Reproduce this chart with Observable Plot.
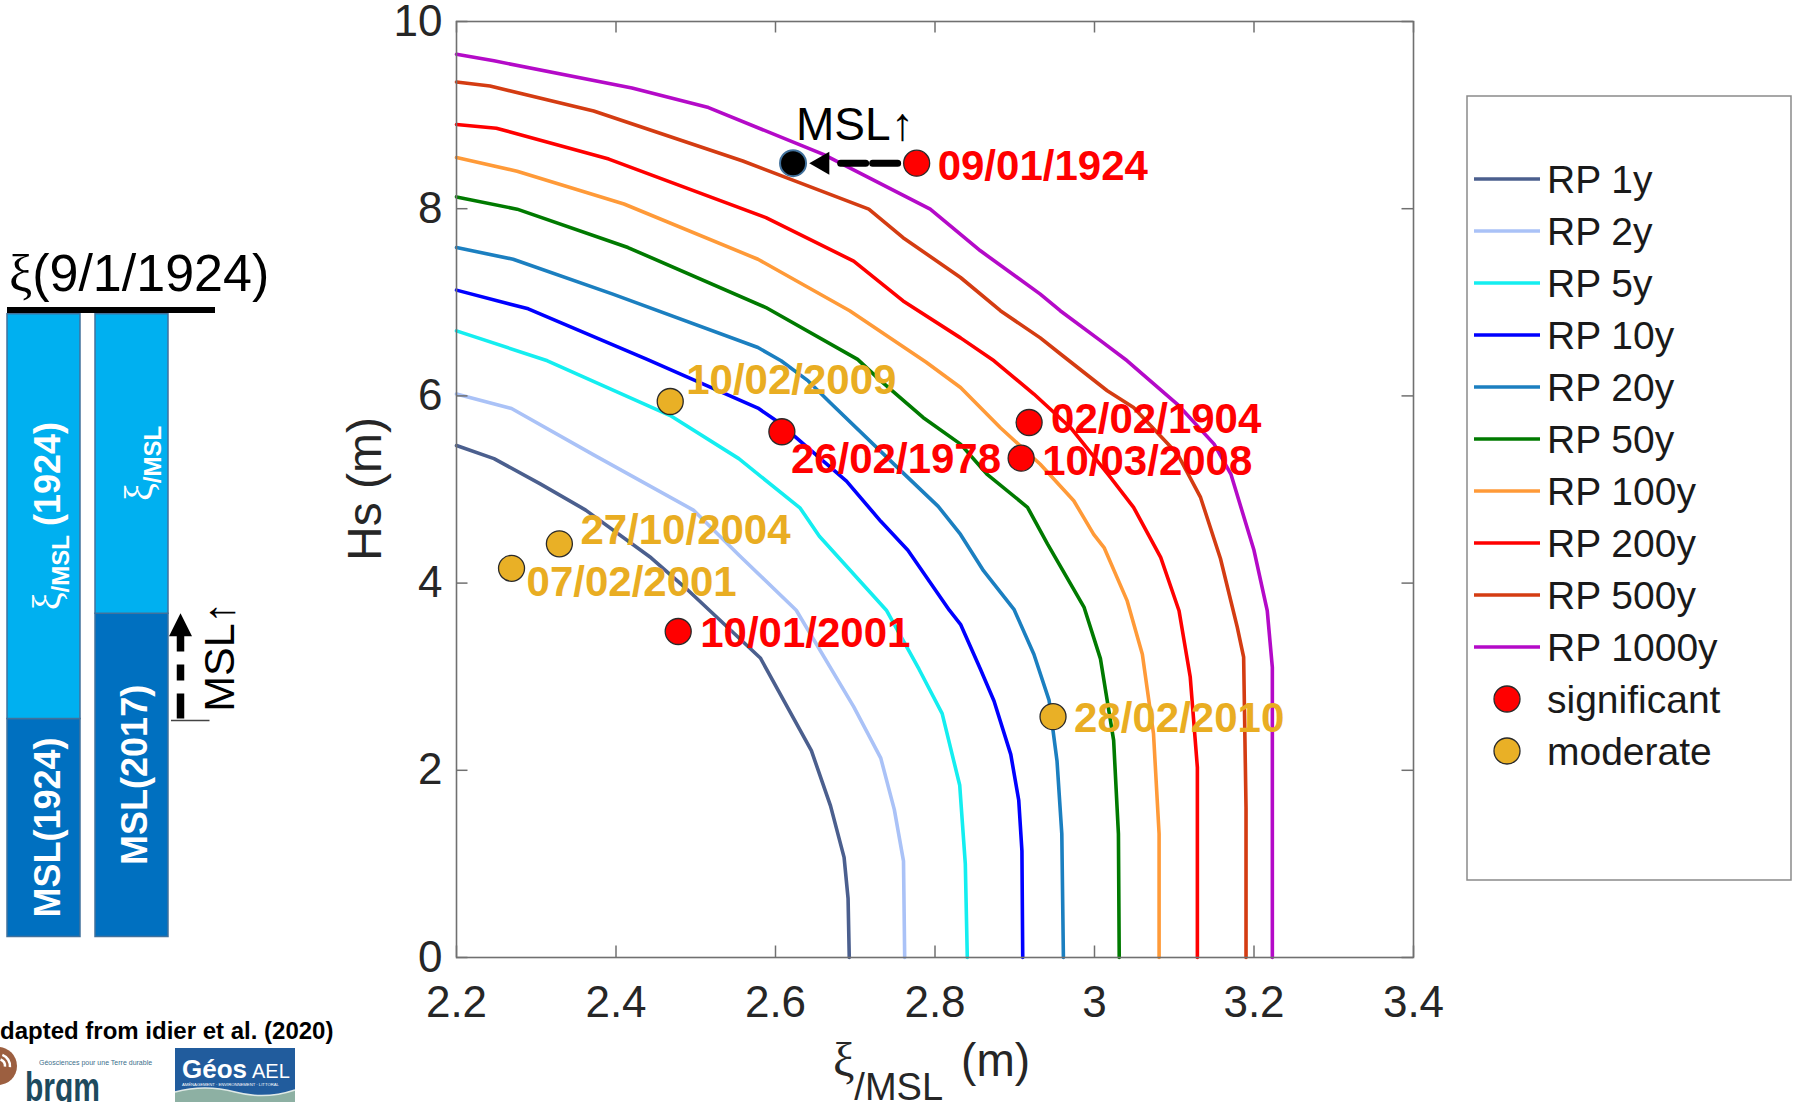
<!DOCTYPE html>
<html>
<head>
<meta charset="utf-8">
<script src="https://cdn.jsdelivr.net/npm/d3@7"></script>
<script src="https://cdn.jsdelivr.net/npm/@observablehq/plot@0.6"></script>
<style>
  html, body { margin: 0; padding: 0; background: #fff; }
  #page { position: relative; width: 1797px; height: 1102px; overflow: hidden; background: #fff;
          font-family: "Liberation Sans", Arial, Helvetica, sans-serif; }
  #page > svg, #page > div { position: absolute; }
</style>
</head>
<body>
<div id="page"></div>
<script>
// ---------------- DATA ----------------
const rpNames  = ["RP 1y", "RP 2y", "RP 5y", "RP 10y", "RP 20y", "RP 50y", "RP 100y", "RP 200y", "RP 500y", "RP 1000y"];
const rpColors = ["#4b5f8e", "#aac2f7", "#14eef0", "#0000ff", "#1b7fc0", "#007a00", "#ff9a38", "#ff0000", "#d43c12", "#b40ac8"];

// contours: [xi/MSL (m), Hs (m)]
const rp1y    = [[2.2,5.47],[2.247,5.33],[2.305,5.06],[2.362,4.78],[2.444,4.27],[2.487,3.95],[2.581,3.2],[2.645,2.21],[2.669,1.62],[2.686,1.07],[2.691,0.63],[2.6925,0]];
const rp2y    = [[2.2,6.02],[2.269,5.865],[2.372,5.37],[2.497,4.78],[2.554,4.3],[2.626,3.71],[2.698,2.68],[2.732,2.13],[2.749,1.58],[2.7605,1.03],[2.762,0]];
const rp5y    = [[2.2,6.695],[2.314,6.375],[2.468,5.79],[2.554,5.33],[2.631,4.8],[2.655,4.5],[2.739,3.71],[2.78,3.08],[2.809,2.605],[2.831,1.84],[2.838,1.0],[2.8405,0]];
const rp10y   = [[2.2,7.13],[2.29,6.93],[2.439,6.39],[2.578,5.87],[2.602,5.73],[2.689,5.09],[2.732,4.66],[2.766,4.35],[2.818,3.71],[2.832,3.56],[2.857,3.08],[2.874,2.74],[2.895,2.17],[2.905,1.68],[2.909,1.14],[2.91,0]];
const rp20y   = [[2.2,7.585],[2.271,7.46],[2.396,7.087],[2.578,6.517],[2.607,6.375],[2.641,6.16],[2.669,5.925],[2.756,5.21],[2.804,4.82],[2.832,4.52],[2.861,4.13],[2.899,3.72],[2.924,3.24],[2.943,2.75],[2.953,2.1],[2.959,1.32],[2.961,0]];
const rp50y   = [[2.2,8.126],[2.276,7.995],[2.415,7.585],[2.588,6.944],[2.703,6.39],[2.732,6.16],[2.785,5.77],[2.832,5.485],[2.865,5.165],[2.916,4.81],[2.941,4.42],[2.987,3.74],[3.0075,3.19],[3.024,2.32],[3.03,1.32],[3.031,0]];
const rp100y  = [[2.2,8.546],[2.276,8.4],[2.41,8.05],[2.578,7.46],[2.693,6.91],[2.789,6.36],[2.832,6.09],[2.882,5.66],[2.932,5.27],[2.974,4.88],[2.999,4.52],[3.012,4.38],[3.041,3.81],[3.06,3.24],[3.074,2.39],[3.081,1.32],[3.081,0]];
const rp200y  = [[2.2,8.9],[2.25,8.86],[2.391,8.53],[2.588,7.905],[2.698,7.44],[2.76,7.015],[2.832,6.62],[2.874,6.375],[2.924,6.02],[2.97,5.66],[3.02,5.13],[3.049,4.81],[3.083,4.275],[3.106,3.705],[3.12,3.0],[3.129,2.03],[3.129,0]];
const rp500y  = [[2.2,9.354],[2.242,9.31],[2.372,9.044],[2.559,8.51],[2.717,7.995],[2.76,7.69],[2.832,7.265],[2.882,6.91],[2.932,6.62],[2.957,6.45],[3.016,6.055],[3.049,5.875],[3.104,5.38],[3.133,4.915],[3.158,4.26],[3.179,3.53],[3.187,3.21],[3.19,1.6],[3.19,0]];
const rp1000y = [[2.2,9.65],[2.247,9.58],[2.42,9.29],[2.516,9.08],[2.66,8.58],[2.794,7.995],[2.857,7.55],[2.932,7.087],[2.957,6.91],[3.0075,6.59],[3.041,6.375],[3.104,5.91],[3.15,5.485],[3.171,5.165],[3.2,4.35],[3.2166,3.705],[3.223,3.1],[3.223,0]];
const rpCurves = [rp1y, rp2y, rp5y, rp10y, rp20y, rp50y, rp100y, rp200y, rp500y, rp1000y];

// storm events
const sigDates = ["09/01/1924", "02/02/1904", "10/03/2008", "26/02/1978", "10/01/2001"];
const sigX     = [2.777, 2.918, 2.908, 2.608, 2.478];
const sigY     = [8.486, 5.716, 5.335, 5.617, 3.483];
const modDates = ["10/02/2009", "27/10/2004", "07/02/2001", "28/02/2010"];
const modX     = [2.468, 2.329, 2.269, 2.948];
const modY     = [5.94, 4.42, 4.158, 2.573];
// 09/01/1924 event translated to present mean sea level
const shiftedX = [2.622];
const shiftedY = [8.486];
const mslNote  = "MSL\u2191";

const xTicks = [2.2, 2.4, 2.6, 2.8, 3, 3.2, 3.4];
const yTicks = [0, 2, 4, 6, 8, 10];
const legendExtra = ["significant", "moderate"];

// schematic sea-level diagram (relative units)
const barColumns = ["1924", "2017"];
const mslLevel   = [3.5, 5.19];
const eventLevel = 10;

// ---------------- LAYOUT / STYLE ----------------
const sans  = '"Liberation Sans", Arial, Helvetica, sans-serif';
const serif = '"Liberation Serif", "Times New Roman", serif';
const sigColor = "#ff0000", modColor = "#e9b026", modText = "#e9ad22";
const labelOffset = {
  "09/01/1924": [21, 3], "02/02/1904": [22, -3], "10/03/2008": [21, 3],
  "26/02/1978": [9, 28], "10/01/2001": [22, 2], "10/02/2009": [16, -21],
  "27/10/2004": [21, -13], "07/02/2001": [15, 14], "28/02/2010": [21, 2]
};

const W = 1797, H = 1102;
const mL = 456, mR = 384, mT = 21, mB = 145;
const plotW = W - mL - mR, plotH = H - mT - mB;
const xDomain = [2.2, 3.4], yDomain = [0, 10];
const tickPx = 11.5;
const tx = tickPx * (xDomain[1] - xDomain[0]) / plotW;
const ty = tickPx * (yDomain[1] - yDomain[0]) / plotH;
const axisGray = "#707070";

const lines = rpNames.flatMap((name, i) => rpCurves[i].map(([x, y]) => ({name, x, y})));
const sigEvents = sigDates.map((date, i) => ({date, x: sigX[i], y: sigY[i], cls: "significant"}));
const modEvents = modDates.map((date, i) => ({date, x: modX[i], y: modY[i], cls: "moderate"}));
const events = [...sigEvents, ...modEvents];
const shifted = [{x: shiftedX[0], y: shiftedY[0], note: mslNote}];
const move1924 = [{x1: sigX[0], y1: sigY[0], x2: shiftedX[0], y2: shiftedY[0]}];

const labelMarks = events.map(e => Plot.text([e], {
  x: "x", y: "y", text: "date",
  dx: labelOffset[e.date][0], dy: labelOffset[e.date][1],
  textAnchor: "start", lineAnchor: "middle",
  fontSize: 42, fontWeight: "bold", fontFamily: sans,
  fill: e.cls === "significant" ? sigColor : modText
}));

const main = Plot.plot({
  width: W, height: H,
  marginLeft: mL, marginRight: mR, marginTop: mT, marginBottom: mB,
  x: {domain: xDomain, label: null},
  y: {domain: yDomain, label: null},
  color: {domain: rpNames, range: rpColors},
  style: {fontFamily: sans, fontSize: "44px", color: "#262626", background: "transparent", overflow: "visible"},
  marks: [
    Plot.line(lines, {x: "x", y: "y", z: "name", stroke: "name", strokeWidth: 3.6, strokeLinejoin: "round"}),
    Plot.ruleX(xTicks, {y1: yDomain[0], y2: yDomain[0] + ty, stroke: axisGray, strokeWidth: 1.5}),
    Plot.ruleX(xTicks, {y1: yDomain[1] - ty, y2: yDomain[1], stroke: axisGray, strokeWidth: 1.5}),
    Plot.ruleY(yTicks, {x1: xDomain[0], x2: xDomain[0] + tx, stroke: axisGray, strokeWidth: 1.5}),
    Plot.ruleY(yTicks, {x1: xDomain[1] - tx, x2: xDomain[1], stroke: axisGray, strokeWidth: 1.5}),
    Plot.axisX({ticks: xTicks, tickSize: 0, tickPadding: 28, tickFormat: d => String(d), fontSize: 44, label: null}),
    Plot.axisY({ticks: yTicks, tickSize: 0, tickPadding: 14, tickFormat: d => String(d), fontSize: 44, label: null}),
    Plot.frame({stroke: axisGray, strokeWidth: 1.6}),
    Plot.arrow(move1924, {x1: "x1", y1: "y1", x2: "x2", y2: "y2", insetStart: 19, insetEnd: 45,
      headLength: 0, stroke: "black", strokeWidth: 7, strokeDasharray: "25 7"}),
    Plot.dot(shifted, {x: "x", y: "y", symbol: "triangle", r: 8.6, fill: "black", rotate: -90, dx: 29.6}),
    Plot.dot(sigEvents, {x: "x", y: "y", r: 13, fill: sigColor, stroke: "#2a2a2a", strokeWidth: 1.3}),
    Plot.dot(modEvents, {x: "x", y: "y", r: 13, fill: modColor, stroke: "#2a2a2a", strokeWidth: 1.3}),
    Plot.dot(shifted, {x: "x", y: "y", r: 13, fill: "black", stroke: "#41719c", strokeWidth: 2}),
    Plot.text(shifted, {x: "x", y: "y", text: "note", dx: 3, dy: -38, textAnchor: "start", lineAnchor: "middle",
      fontSize: 46, fill: "black", fontFamily: sans}),
    ...labelMarks
  ]
});
const page = d3.select("#page");
page.node().appendChild(main);
d3.select(main).style("left", "0px").style("top", "0px");

// axis titles
const gm = d3.select(main);
gm.append("text")
  .attr("transform", `translate(${mL - 92},${mT + plotH / 2}) rotate(-90)`)
  .attr("text-anchor", "middle").attr("dominant-baseline", "central")
  .attr("font-size", 48).attr("fill", "#262626").attr("font-family", sans)
  .text("Hs (m)");
const xt = gm.append("text")
  .attr("x", mL + plotW / 2 - 3).attr("y", H - 26)
  .attr("text-anchor", "middle").attr("font-size", 46).attr("fill", "#262626").attr("font-family", sans);
xt.append("tspan").attr("font-family", serif).attr("font-size", 48).text("ξ");
xt.append("tspan").attr("font-size", 38).attr("dy", 24).text("/MSL");
xt.append("tspan").attr("dy", -24).attr("dx", 18).text("(m)");

// ---------------- LEFT SCHEMATIC ----------------
const segments = [
  {col: barColumns[0], part: "MSL", y1: 0, y2: mslLevel[0]},
  {col: barColumns[0], part: "xi",  y1: mslLevel[0], y2: eventLevel},
  {col: barColumns[1], part: "MSL", y1: 0, y2: mslLevel[1]},
  {col: barColumns[1], part: "xi",  y1: mslLevel[1], y2: eventLevel}
];
const diagTop = 230;
const diag = Plot.plot({
  width: 260, height: 718,
  marginLeft: 7, marginRight: 45, marginTop: 83.7, marginBottom: 11.5,
  x: {type: "band", domain: barColumns, range: [7, 169], paddingInner: 0.17, paddingOuter: 0, align: 0, axis: null},
  y: {domain: [0, eventLevel], axis: null},
  color: {domain: ["MSL", "xi"], range: ["#0070c0", "#00b0f0"]},
  style: {background: "transparent", overflow: "visible", fontFamily: sans},
  marks: [
    Plot.barY(segments, {x: "col", y1: "y1", y2: "y2", fill: "part", stroke: "#41719c", strokeWidth: 1.5, inset: 0}),
    Plot.ruleY([eventLevel], {stroke: "black", strokeWidth: 6, dy: -4.2})
  ]
});
page.node().appendChild(diag);
d3.select(diag).style("left", "0px").style("top", diagTop + "px");

function toFn(s) {
  let f;
  if (typeof s.apply === "function") f = v => s.apply(v);
  else if (s.type === "band") {
    const b = d3.scaleBand(s.domain, s.range).paddingInner(s.paddingInner ?? 0).paddingOuter(s.paddingOuter ?? 0).align(s.align ?? 0.5);
    f = v => b(v);
  } else {
    const l = d3.scaleLinear(s.domain, s.range);
    f = v => l(v);
  }
  f.bandwidth = s.bandwidth || 0;
  return f;
}
const xS = toFn(diag.scale("x")), yS = toFn(diag.scale("y"));
const gd = d3.select(diag);

// title ξ(9/1/1924)
const tt = gd.append("text").attr("x", 9).attr("y", yS(eventLevel) - 23)
  .attr("text-anchor", "start")
  .attr("font-size", 52).attr("fill", "black").attr("font-family", sans);
tt.append("tspan").attr("font-family", serif).text("ξ");
tt.append("tspan").text("(9/1/1924)");

function barLabel(cx, cy, build) {
  const t = gd.append("text")
    .attr("transform", `translate(${cx},${cy}) rotate(-90)`)
    .attr("text-anchor", "middle").attr("y", 13)
    .attr("fill", "white").attr("font-weight", "bold").attr("font-family", sans).attr("font-size", 36);
  build(t);
}
const bw = xS.bandwidth;
const c0 = xS(barColumns[0]) + bw / 2 + 3, c1 = xS(barColumns[1]) + bw / 2 + 2;
barLabel(c0, (yS(mslLevel[0]) + yS(eventLevel)) / 2, t => {
  t.append("tspan").attr("font-family", serif).attr("font-weight", "normal").attr("font-size", 40).text("ξ");
  t.append("tspan").attr("font-size", 24).attr("dy", 9).text("/MSL");
  t.append("tspan").attr("dy", -9).attr("dx", 9).text("(1924)");
});
barLabel(c0, (yS(0) + yS(mslLevel[0])) / 2, t => t.text("MSL(1924)"));
barLabel(c1 + 5, (yS(mslLevel[1]) + yS(eventLevel)) / 2, t => {
  t.append("tspan").attr("font-family", serif).attr("font-weight", "normal").attr("font-size", 40).text("ξ");
  t.append("tspan").attr("font-size", 24).attr("dy", 9).text("/MSL");
});
barLabel(c1, (yS(0) + yS(mslLevel[1])) / 2, t => t.text("MSL(2017)"));

// MSL rise arrow
const barEnd = xS(barColumns[1]) + bw;
const xArrow = barEnd + 12.5;
const yOld = yS(mslLevel[0]), yNew = yS(mslLevel[1]);
gd.append("line").attr("x1", barEnd + 3).attr("x2", xArrow + 29).attr("y1", yOld + 2).attr("y2", yOld + 2)
  .attr("stroke", "#444").attr("stroke-width", 1.3);
gd.append("line").attr("x1", xArrow).attr("x2", xArrow).attr("y1", yOld).attr("y2", yNew + 22)
  .attr("stroke", "black").attr("stroke-width", 7.5).attr("stroke-dasharray", "25 13 16 13 16");
gd.append("path").attr("d", `M${xArrow},${yNew} l11.5,23 l-23,0 z`).attr("fill", "black");
gd.append("text")
  .attr("transform", `translate(${xArrow + 38},${(yOld + yNew) / 2 - 9}) rotate(-90)`)
  .attr("text-anchor", "middle").attr("y", 15)
  .attr("font-size", 43).attr("fill", "black").attr("font-family", sans)
  .text(mslNote);

// ---------------- LEGEND ----------------
const leg = page.append("svg").attr("width", 326).attr("height", 786)
  .style("left", "1466px").style("top", "95px");
leg.append("rect").attr("x", 1).attr("y", 1).attr("width", 324).attr("height", 784)
  .attr("fill", "white").attr("stroke", "#8a8a8a").attr("stroke-width", 1.5);
const rowY = i => 84 + i * 52;
rpNames.forEach((n, i) => {
  leg.append("line").attr("x1", 8).attr("x2", 74).attr("y1", rowY(i)).attr("y2", rowY(i))
    .attr("stroke", rpColors[i]).attr("stroke-width", 3.6);
  leg.append("text").attr("x", 81).attr("y", rowY(i)).attr("dy", "0.36em")
    .attr("font-size", 39).attr("fill", "#1a1a1a").attr("font-family", sans).text(n);
});
legendExtra.forEach((n, j) => {
  const i = rpNames.length + j;
  leg.append("circle").attr("cx", 41).attr("cy", rowY(i)).attr("r", 13)
    .attr("fill", j === 0 ? sigColor : modColor).attr("stroke", "#2a2a2a").attr("stroke-width", 1.3);
  leg.append("text").attr("x", 81).attr("y", rowY(i)).attr("dy", "0.36em")
    .attr("font-size", 39).attr("fill", "#1a1a1a").attr("font-family", sans).text(n);
});

// ---------------- CREDITS ----------------
const cred = page.append("svg").attr("width", 360).attr("height", 90)
  .style("left", "0px").style("top", "1012px");
cred.append("text").attr("x", 0).attr("y", 27).attr("font-size", 24).attr("font-weight", "bold")
  .attr("fill", "black").attr("font-family", sans).text("dapted from idier et al. (2020)");
// brgm
cred.append("circle").attr("cx", -2).attr("cy", 54).attr("r", 19).attr("fill", "#9c5f40");
[7, 12].forEach(r => cred.append("path")
  .attr("d", `M${-2 + r * Math.cos(-1.2)},${54 + r * Math.sin(-1.2)} A${r},${r} 0 0 1 ${-2 + r * Math.cos(0.1)},${54 + r * Math.sin(0.1)}`)
  .attr("fill", "none").attr("stroke", "white").attr("stroke-width", 2.5));
cred.append("text").attr("x", 39).attr("y", 53).attr("font-size", 7).attr("fill", "#3d6f8c")
  .attr("font-family", sans).text("Géosciences pour une Terre durable");
cred.append("text").attr("x", 25).attr("y", 89).attr("font-size", 40).attr("font-weight", "bold")
  .attr("fill", "#1d4a5e").attr("font-family", sans)
  .attr("textLength", 75).attr("lengthAdjust", "spacingAndGlyphs").text("brgm");
// Géos AEL
cred.append("rect").attr("x", 175).attr("y", 36).attr("width", 120).attr("height", 54).attr("fill", "#215c9d");
cred.append("path").attr("d", "M175,80 Q205,72 235,80 T295,78 L295,90 L175,90 Z").attr("fill", "#8db0a3");
cred.append("path").attr("d", "M175,80 Q205,72 235,80 T295,78").attr("fill", "none").attr("stroke", "#dfe9e6").attr("stroke-width", 1.5);
cred.append("text").attr("x", 182).attr("y", 66).attr("font-size", 26).attr("font-weight", "bold")
  .attr("fill", "white").attr("font-family", sans).text("Géos");
cred.append("text").attr("x", 252).attr("y", 66).attr("font-size", 20)
  .attr("fill", "white").attr("font-family", sans).text("AEL");
cred.append("text").attr("x", 182).attr("y", 74).attr("font-size", 4.2)
  .attr("fill", "white").attr("font-family", sans).text("AMÉNAGEMENT · ENVIRONNEMENT · LITTORAL");
</script>
</body>
</html>
